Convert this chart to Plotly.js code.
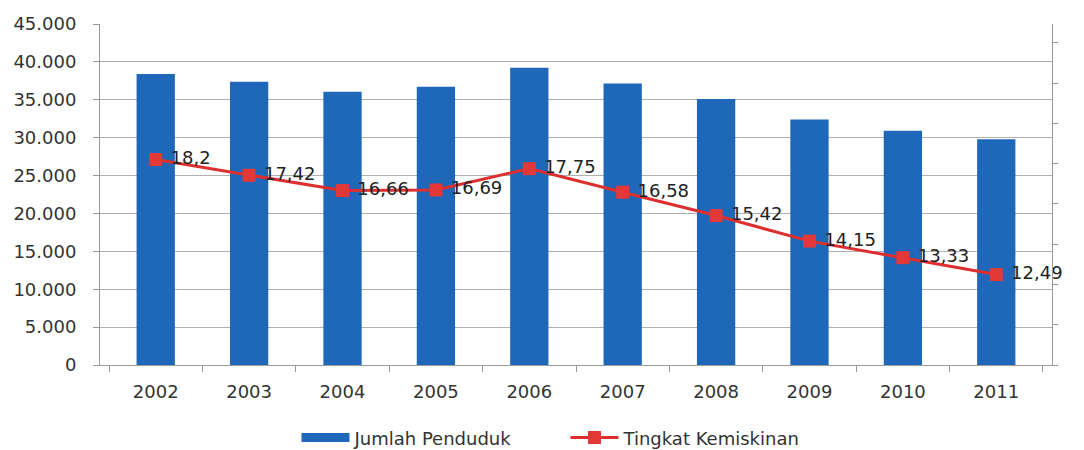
<!DOCTYPE html>
<html>
<head>
<meta charset="utf-8">
<script src="https://cdn.plot.ly/plotly-3.0.1.min.js"></script>
<style>html,body{margin:0;padding:0;background:#fff;}#chart{width:1084px;height:450px;}</style>
</head>
<body>
<div id="chart"></div>
<script>
const years = ['2002','2003','2004','2005','2006','2007','2008','2009','2010','2011'];
const jumlahPenduduk = [38390, 37380, 36060, 36720, 39220, 37160, 35090, 32410, 30910, 29780];
const tingkatKemiskinan = [18.2, 17.42, 16.66, 16.69, 17.75, 16.58, 15.42, 14.15, 13.33, 12.49];
const tingkatLabels = ['18,2', '17,42', '16,66', '16,69', '17,75', '16,58', '15,42', '14,15', '13,33', '12,49'];

const font = 'DejaVu Sans, Verdana, sans-serif';
const barColor = '#1f67b9';

const traces = [
  {
    type: 'bar', name: 'Jumlah Penduduk', x: years, y: jumlahPenduduk,
    marker: {color: barColor}, yaxis: 'y', hoverinfo: 'skip', showlegend: false
  },
  {
    type: 'scatter', mode: 'lines', name: 'Jumlah Penduduk', x: [null], y: [null],
    line: {color: barColor, width: 9}, yaxis: 'y', hoverinfo: 'skip', showlegend: true
  },
  {
    type: 'scatter', mode: 'lines+markers+text', name: 'Tingkat Kemiskinan',
    x: years, y: tingkatKemiskinan, yaxis: 'y2',
    text: tingkatLabels.map(t => ' ' + t), textposition: 'middle right',
    textfont: {family: font, size: 18, color: '#222'},
    line: {color: '#de2f2f', width: 3},
    marker: {color: '#e23838', symbol: 'square', size: 13},
    cliponaxis: false, hoverinfo: 'skip'
  }
];

const layout = {
  width: 1084, height: 450,
  margin: {l: 100, r: 32, t: 24, b: 85},
  paper_bgcolor: '#fff', plot_bgcolor: '#fff',
  separators: ',.',
  font: {family: font, size: 18, color: '#333'},
  bargap: 0.59,
  showlegend: true,
  legend: {
    orientation: 'h', x: 0.2735, xanchor: 'left', xref: 'container',
    y: 0.027, yanchor: 'middle', yref: 'container',
    font: {family: font, size: 18, color: '#333'}, itemwidth: 48,
    entrywidth: 206, traceorder: 'normal'
  },
  xaxis: {
    type: 'category', showgrid: false, showline: true, linecolor: '#9a9a9a', linewidth: 1,
    ticks: 'outside', tickson: 'boundaries', ticklen: 6, tickcolor: '#9a9a9a',
    tickfont: {family: font, size: 18, color: '#333'}, zeroline: false,
    ticklabelstandoff: 10
  },
  yaxis: {
    range: [0, 45000], dtick: 5000, tickformat: ',d',
    showgrid: true, gridcolor: '#b0b0b0', gridwidth: 1,
    showline: true, linecolor: '#9a9a9a', linewidth: 1,
    ticks: 'outside', ticklen: 6, tickcolor: '#9a9a9a',
    tickfont: {family: font, size: 18, color: '#333'}, zeroline: false,
    ticklabelstandoff: 13
  },
  yaxis2: {
    overlaying: 'y', side: 'right', range: [8, 24.93], dtick: 2, tick0: 0,
    showgrid: false, showticklabels: false, showline: true, linecolor: '#9a9a9a', linewidth: 1,
    ticks: 'outside', ticklen: 5, tickcolor: '#9a9a9a', zeroline: false
  }
};

Plotly.newPlot('chart', traces, layout, {displayModeBar: false, staticPlot: true});
</script>
</body>
</html>
